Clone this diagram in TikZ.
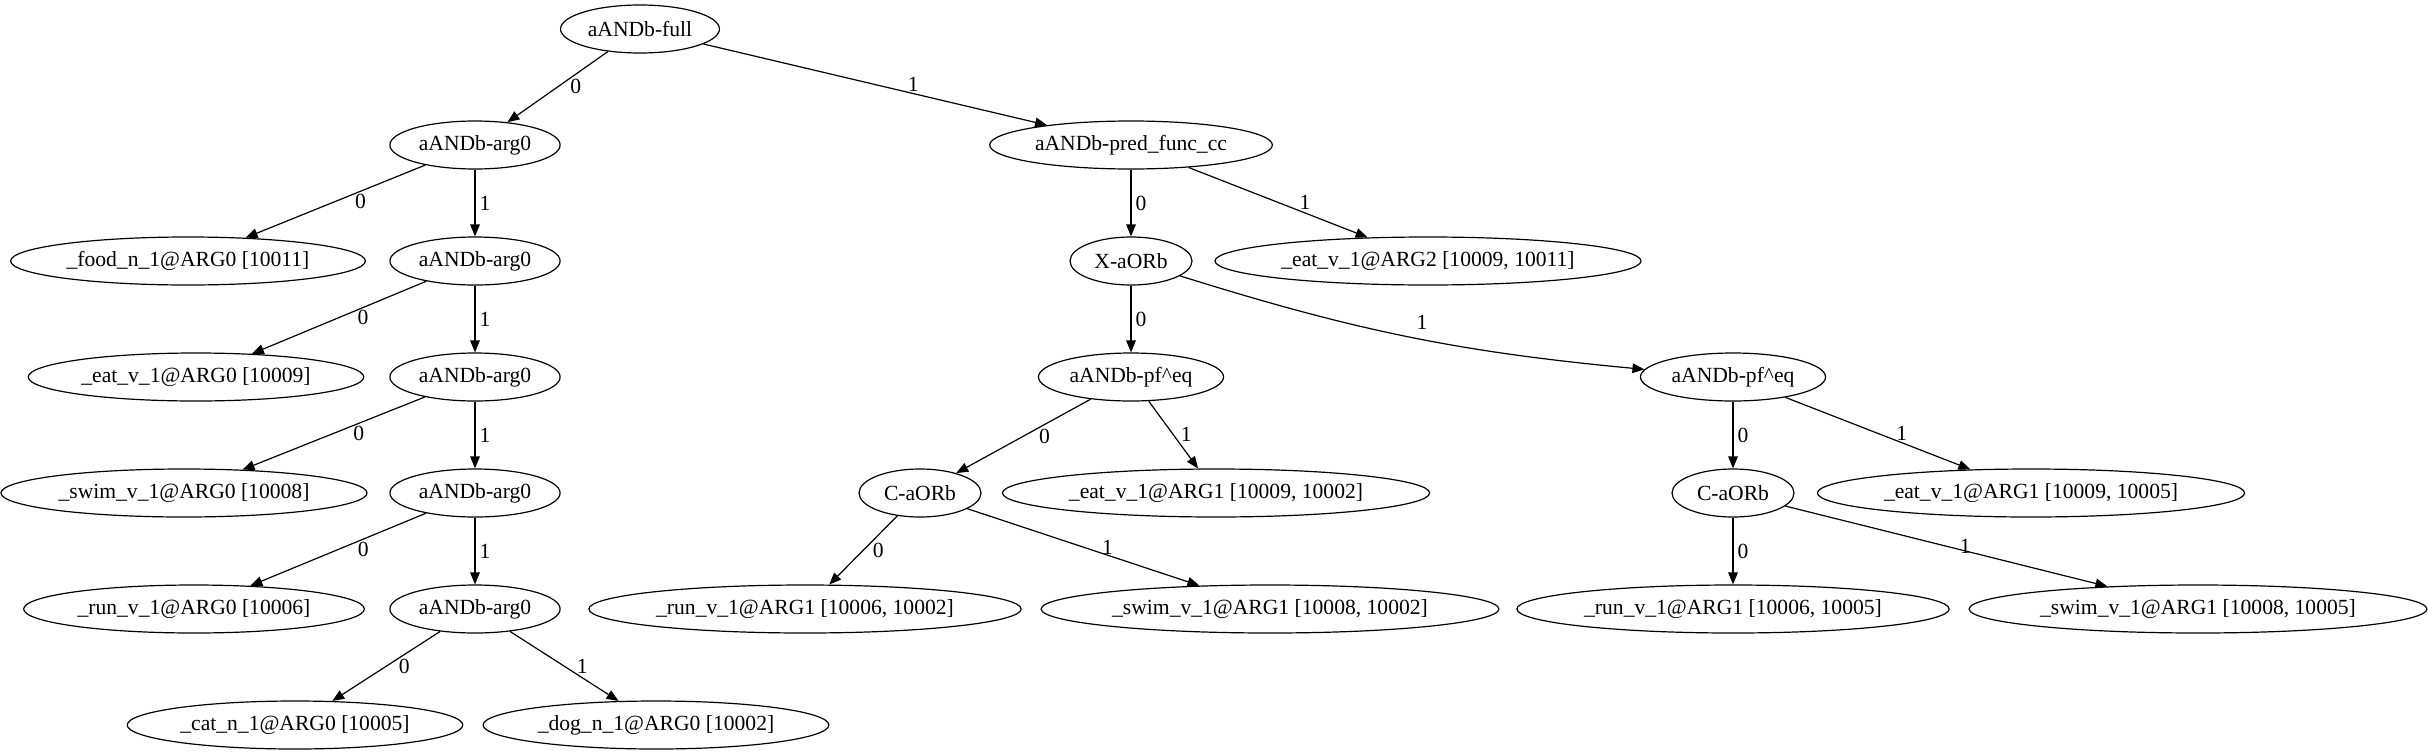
\documentclass[tikz,border=0pt]{standalone}
\usepackage{fontspec}
\setmainfont{Liberation Serif}
\usetikzlibrary{shapes,arrows.meta,positioning}
\tikzstyle{tree} = [draw, ellipse, line width=0.6pt, inner xsep=2pt, minimum width=61pt, minimum height=24pt]
\tikzstyle{line} = [draw, line width=0.6pt, -{Triangle[length=6pt, width=4.8pt]}]
\tikzstyle{lbl} = [right, inner sep=2pt]

\begin{document}
\begin{tikzpicture}[node distance = 58pt, font=\fontsize{10.8pt}{13pt}\selectfont]
      \useasboundingbox (0,0) rectangle (1214pt,-377.5pt);
      % place nodes
      \node [tree] (full) at (320pt,-14.5pt) {aANDb-full};
      \node [tree, below of=full, xshift=-82.5pt] (arga) {aANDb-arg0};
      \node [tree, below of=arga] (argb) {aANDb-arg0};
      \node [tree, left of=argb, node distance=143.5pt] (food) {\_food\_n\_1@ARG0 [10011]};
      \node [tree, below of=argb] (argc) {aANDb-arg0};
      \node [tree, left of=argc, node distance=139.5pt] (eatz) {\_eat\_v\_1@ARG0 [10009]};
      \node [tree, below of=argc] (argd) {aANDb-arg0};
      \node [tree, left of=argd, node distance=145.5pt] (swimz) {\_swim\_v\_1@ARG0 [10008]};
      \node [tree, below of=argd] (arge) {aANDb-arg0};
      \node [tree, left of=arge, node distance=140.5pt] (runz) {\_run\_v\_1@ARG0 [10006]};
      \node [tree, below of=arge, xshift=-90pt] (cat) {\_cat\_n\_1@ARG0 [10005]};
      \node [tree, below of=arge, xshift=90.5pt] (dog) {\_dog\_n\_1@ARG0 [10002]};

      \node [tree, below of=full, xshift=245.5pt] (pred) {aANDb-pred\_func\_cc};
      \node [tree, below of=pred] (xor) {X-aORb};
      \node [tree, right of=xor, node distance=148.5pt] (eattwo) {\_eat\_v\_1@ARG2 [10009, 10011]};
      \node [tree, below of=xor] (pfa) {aANDb-pf\textasciicircum eq};
      \node [tree, right of=pfa, node distance=301pt] (pfb) {aANDb-pf\textasciicircum eq};
      \node [tree, below of=pfa, xshift=-105.5pt] (cora) {C-aORb};
      \node [tree, below of=pfa, xshift=42.5pt] (eatonea) {\_eat\_v\_1@ARG1 [10009, 10002]};
      \node [tree, below of=pfb] (corb) {C-aORb};
      \node [tree, right of=corb, node distance=149pt] (eatoneb) {\_eat\_v\_1@ARG1 [10009, 10005]};
      \node [tree, below of=cora, xshift=-57.5pt] (runa) {\_run\_v\_1@ARG1 [10006, 10002]};
      \node [tree, below of=cora, xshift=175pt] (swima) {\_swim\_v\_1@ARG1 [10008, 10002]};
      \node [tree, below of=corb] (runb) {\_run\_v\_1@ARG1 [10006, 10005]};
      \node [tree, right of=runb, node distance=232.5pt] (swimb) {\_swim\_v\_1@ARG1 [10008, 10005]};

      % draw edges
      \path [line] (full) -- node [lbl, xshift=4pt] {0} (arga);
      \path [line] (full) -- node [lbl, xshift=14pt] {1} (pred);
      \path [line] (arga) -- node [lbl, xshift=7.5pt] {0} (food);
      \path [line] (arga) -- node [lbl] {1} (argb);
      \path [line] (argb) -- node [lbl, xshift=7pt] {0} (eatz);
      \path [line] (argb) -- node [lbl] {1} (argc);
      \path [line] (argc) -- node [lbl, xshift=7.5pt] {0} (swimz);
      \path [line] (argc) -- node [lbl] {1} (argd);
      \path [line] (argd) -- node [lbl, xshift=7.5pt] {0} (runz);
      \path [line] (argd) -- node [lbl] {1} (arge);
      \path [line] (arge) -- node [lbl, xshift=4pt] {0} (cat);
      \path [line] (arge) -- node [lbl, xshift=4pt] {1} (dog);
      \path [line] (pred) -- node [lbl] {0} (xor);
      \path [line] (pred) -- node [lbl, xshift=8.5pt] {1} (eattwo);
      \path [line] (xor) -- node [lbl] {0} (pfa);
      \path [line] (xor) to [bend right=6] node [auto] {1} (pfb);
      \path [line] (pfa) -- node [lbl, xshift=5.5pt] {0} (cora);
      \path [line] (pfa) -- node [lbl, xshift=1.5pt] {1} (eatonea);
      \path [line] (pfb) -- node [lbl] {0} (corb);
      \path [line] (pfb) -- node [lbl, xshift=7pt] {1} (eatoneb);
      \path [line] (cora) -- node [lbl, xshift=2.5pt] {0} (runa);
      \path [line] (cora) -- node [lbl, xshift=7pt] {1} (swima);
      \path [line] (corb) -- node [lbl] {0} (runb);
      \path [line] (corb) -- node [lbl, xshift=4.5pt] {1} (swimb);
\end{tikzpicture}
\end{document}
